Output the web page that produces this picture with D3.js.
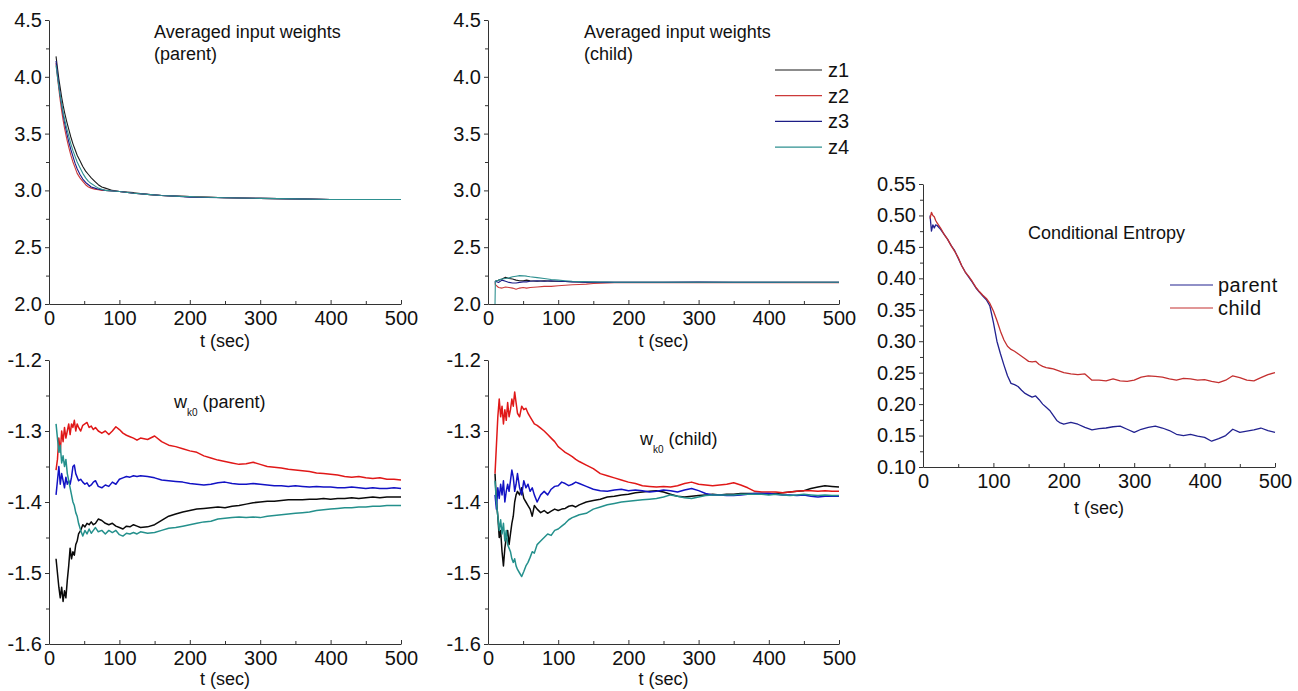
<!DOCTYPE html>
<html>
<head>
<meta charset="utf-8">
<script src="https://cdn.jsdelivr.net/npm/d3@7"></script>
<style>
  body { margin: 0; background: #fff; }
  svg { display: block; }
  text { font-family: "Liberation Sans", Arial, sans-serif; fill: #111; }
  .domain, .tick line { stroke: #333; }
</style>
</head>
<body>
<svg id="chart" width="1298" height="691"></svg>
<script>
// ---- data ----
const xTicks = [0, 100, 200, 300, 400, 500];
const xMinor = [50, 150, 250, 350, 450];

// averaged input weights, parent
const tAvgP = [10,12,14,16,18,20,22,25,28,31,34,37,40,44,48,52,56,60,65,70,75,80,90,100,120,140,160,180,200,250,300,350,400,450,500];
const avgP_z1 = [4.18,4.08,3.98,3.90,3.82,3.75,3.69,3.61,3.54,3.47,3.41,3.36,3.31,3.26,3.21,3.17,3.14,3.11,3.08,3.05,3.03,3.02,3.00,2.99,2.98,2.965,2.955,2.95,2.945,2.935,2.93,2.925,2.92,2.92,2.92];
const avgP_z2 = [4.12,4.00,3.89,3.79,3.70,3.62,3.55,3.46,3.38,3.31,3.25,3.20,3.15,3.11,3.08,3.05,3.03,3.02,3.01,3.005,3.00,3.00,2.995,2.99,2.975,2.965,2.955,2.95,2.945,2.935,2.93,2.925,2.92,2.92,2.92];
const avgP_z3 = [4.14,4.03,3.93,3.83,3.75,3.67,3.60,3.51,3.43,3.36,3.30,3.24,3.19,3.14,3.10,3.07,3.05,3.03,3.02,3.01,3.005,3.00,2.995,2.99,2.975,2.965,2.955,2.95,2.94,2.935,2.93,2.925,2.92,2.92,2.92];
const avgP_z4 = [4.10,4.00,3.91,3.83,3.76,3.69,3.63,3.55,3.48,3.41,3.35,3.30,3.25,3.20,3.15,3.11,3.08,3.06,3.04,3.02,3.01,3.00,2.995,2.99,2.975,2.965,2.955,2.95,2.945,2.935,2.93,2.925,2.92,2.92,2.92];

// averaged input weights, child
const tAvgC = [10,10.5,15,20,25,30,35,40,45,50,55,60,70,80,90,100,110,120,130,140,150,160,170,180,200,250,300,350,400,450,500];
const avgC_z1 = [2.20,2.20,2.21,2.22,2.235,2.225,2.22,2.21,2.205,2.205,2.21,2.205,2.20,2.205,2.20,2.20,2.198,2.196,2.195,2.193,2.192,2.192,2.191,2.19,2.19,2.19,2.19,2.19,2.19,2.19,2.19];
const avgC_z2 = [2.19,2.17,2.145,2.14,2.15,2.145,2.14,2.13,2.14,2.145,2.14,2.145,2.15,2.155,2.155,2.16,2.165,2.17,2.172,2.175,2.18,2.182,2.185,2.187,2.188,2.188,2.188,2.188,2.188,2.188,2.188];
const avgC_z3 = [2.19,2.20,2.19,2.21,2.20,2.19,2.185,2.185,2.19,2.195,2.195,2.20,2.205,2.20,2.205,2.20,2.198,2.195,2.193,2.19,2.19,2.19,2.19,2.19,2.19,2.19,2.193,2.19,2.19,2.192,2.192];
const avgC_z4 = [2.0,2.20,2.21,2.22,2.225,2.23,2.24,2.245,2.25,2.248,2.245,2.24,2.232,2.225,2.215,2.21,2.205,2.20,2.198,2.196,2.195,2.194,2.193,2.192,2.192,2.191,2.191,2.191,2.191,2.191,2.191];

// w_k0 time grid (parent and child)
const tW = [10,12,14,16,18,20,22,24,26,28,30,32,34,36,38,40,42,45,48,51,54,57,60,63,66,70,75,80,85,90,95,100,105,110,115,120,125,130,140,150,160,170,180,190,200,210,220,230,240,250,260,270,280,290,300,310,320,330,340,350,360,370,380,390,400,410,420,430,440,450,460,470,480,490,500];

const wP_z1 = [-1.48,-1.50,-1.52,-1.535,-1.52,-1.54,-1.525,-1.535,-1.51,-1.49,-1.465,-1.48,-1.47,-1.475,-1.46,-1.455,-1.445,-1.44,-1.432,-1.435,-1.43,-1.432,-1.428,-1.432,-1.43,-1.424,-1.426,-1.43,-1.432,-1.43,-1.434,-1.436,-1.438,-1.434,-1.435,-1.432,-1.434,-1.436,-1.435,-1.432,-1.426,-1.42,-1.417,-1.414,-1.412,-1.41,-1.409,-1.408,-1.407,-1.408,-1.406,-1.405,-1.403,-1.401,-1.40,-1.399,-1.399,-1.398,-1.397,-1.397,-1.397,-1.396,-1.396,-1.395,-1.396,-1.395,-1.395,-1.394,-1.395,-1.394,-1.393,-1.394,-1.393,-1.393,-1.393];
const wP_z2 = [-1.355,-1.34,-1.31,-1.33,-1.30,-1.315,-1.295,-1.31,-1.30,-1.29,-1.305,-1.29,-1.295,-1.285,-1.30,-1.29,-1.295,-1.30,-1.292,-1.29,-1.288,-1.295,-1.293,-1.298,-1.295,-1.30,-1.303,-1.30,-1.305,-1.30,-1.294,-1.298,-1.303,-1.306,-1.308,-1.31,-1.313,-1.31,-1.312,-1.307,-1.315,-1.32,-1.322,-1.325,-1.328,-1.33,-1.335,-1.338,-1.341,-1.343,-1.345,-1.347,-1.346,-1.344,-1.347,-1.35,-1.351,-1.352,-1.354,-1.355,-1.356,-1.357,-1.359,-1.36,-1.361,-1.362,-1.364,-1.365,-1.364,-1.366,-1.367,-1.366,-1.368,-1.368,-1.369];
const wP_z3 = [-1.39,-1.37,-1.35,-1.375,-1.36,-1.37,-1.38,-1.365,-1.375,-1.37,-1.375,-1.365,-1.35,-1.348,-1.36,-1.365,-1.37,-1.368,-1.372,-1.375,-1.373,-1.378,-1.376,-1.372,-1.37,-1.378,-1.38,-1.376,-1.378,-1.372,-1.375,-1.368,-1.366,-1.364,-1.365,-1.363,-1.364,-1.363,-1.364,-1.366,-1.369,-1.37,-1.371,-1.372,-1.374,-1.375,-1.376,-1.375,-1.373,-1.372,-1.374,-1.375,-1.375,-1.374,-1.375,-1.376,-1.377,-1.377,-1.378,-1.377,-1.378,-1.379,-1.378,-1.379,-1.379,-1.38,-1.38,-1.379,-1.38,-1.381,-1.38,-1.381,-1.381,-1.38,-1.381];
const wP_z4 = [-1.29,-1.31,-1.33,-1.32,-1.345,-1.335,-1.35,-1.34,-1.36,-1.37,-1.38,-1.39,-1.40,-1.405,-1.415,-1.42,-1.43,-1.44,-1.448,-1.44,-1.445,-1.438,-1.444,-1.44,-1.436,-1.442,-1.44,-1.445,-1.44,-1.443,-1.44,-1.446,-1.448,-1.444,-1.445,-1.443,-1.445,-1.442,-1.444,-1.443,-1.44,-1.437,-1.436,-1.434,-1.432,-1.43,-1.428,-1.427,-1.424,-1.423,-1.422,-1.421,-1.422,-1.421,-1.422,-1.42,-1.419,-1.418,-1.417,-1.416,-1.415,-1.414,-1.412,-1.411,-1.41,-1.409,-1.408,-1.408,-1.407,-1.407,-1.406,-1.406,-1.405,-1.405,-1.405];

const wC_z1 = [-1.36,-1.40,-1.42,-1.45,-1.44,-1.47,-1.49,-1.465,-1.45,-1.44,-1.46,-1.445,-1.43,-1.42,-1.40,-1.39,-1.385,-1.39,-1.38,-1.395,-1.40,-1.405,-1.41,-1.42,-1.405,-1.41,-1.415,-1.412,-1.416,-1.413,-1.41,-1.412,-1.41,-1.409,-1.406,-1.405,-1.407,-1.404,-1.40,-1.398,-1.396,-1.393,-1.392,-1.39,-1.389,-1.387,-1.386,-1.385,-1.384,-1.386,-1.389,-1.392,-1.393,-1.392,-1.391,-1.39,-1.389,-1.39,-1.389,-1.389,-1.388,-1.388,-1.388,-1.388,-1.389,-1.388,-1.387,-1.386,-1.385,-1.384,-1.381,-1.379,-1.377,-1.378,-1.379];
const wC_z2 = [-1.36,-1.32,-1.28,-1.255,-1.28,-1.265,-1.29,-1.27,-1.285,-1.26,-1.28,-1.27,-1.255,-1.265,-1.245,-1.26,-1.275,-1.28,-1.265,-1.27,-1.268,-1.275,-1.28,-1.285,-1.29,-1.292,-1.296,-1.30,-1.305,-1.31,-1.315,-1.322,-1.326,-1.33,-1.333,-1.336,-1.34,-1.343,-1.348,-1.353,-1.36,-1.363,-1.366,-1.369,-1.372,-1.374,-1.377,-1.378,-1.379,-1.378,-1.379,-1.377,-1.374,-1.372,-1.375,-1.376,-1.377,-1.376,-1.375,-1.373,-1.376,-1.38,-1.385,-1.386,-1.386,-1.386,-1.387,-1.386,-1.385,-1.384,-1.384,-1.385,-1.384,-1.385,-1.385];
const wC_z3 = [-1.39,-1.41,-1.38,-1.395,-1.375,-1.39,-1.37,-1.40,-1.385,-1.375,-1.385,-1.37,-1.355,-1.365,-1.385,-1.375,-1.36,-1.38,-1.39,-1.37,-1.38,-1.375,-1.385,-1.38,-1.39,-1.40,-1.39,-1.385,-1.39,-1.382,-1.378,-1.377,-1.372,-1.374,-1.377,-1.375,-1.372,-1.374,-1.378,-1.382,-1.384,-1.385,-1.383,-1.382,-1.384,-1.383,-1.384,-1.386,-1.385,-1.383,-1.384,-1.386,-1.383,-1.381,-1.384,-1.388,-1.39,-1.39,-1.391,-1.391,-1.39,-1.389,-1.388,-1.388,-1.388,-1.389,-1.39,-1.39,-1.391,-1.39,-1.392,-1.393,-1.392,-1.392,-1.392];
const wC_z4 = [-1.37,-1.40,-1.42,-1.44,-1.425,-1.445,-1.43,-1.455,-1.44,-1.46,-1.465,-1.47,-1.48,-1.485,-1.48,-1.49,-1.495,-1.50,-1.505,-1.498,-1.49,-1.485,-1.478,-1.47,-1.472,-1.46,-1.455,-1.45,-1.445,-1.447,-1.44,-1.438,-1.434,-1.43,-1.425,-1.422,-1.42,-1.418,-1.416,-1.41,-1.407,-1.404,-1.402,-1.40,-1.399,-1.398,-1.397,-1.396,-1.395,-1.393,-1.39,-1.392,-1.394,-1.395,-1.393,-1.391,-1.39,-1.39,-1.39,-1.39,-1.389,-1.389,-1.389,-1.389,-1.39,-1.389,-1.39,-1.391,-1.39,-1.389,-1.39,-1.391,-1.39,-1.391,-1.391];

// conditional entropy
const tH = [10,12,14,16,18,20,25,30,35,40,45,50,55,60,65,70,75,80,85,90,95,100,105,110,115,120,125,130,135,140,145,150,155,160,165,170,175,180,185,190,195,200,210,220,230,240,250,260,270,280,290,300,310,320,330,340,350,360,370,380,390,400,410,420,430,440,450,460,470,480,490,500];
const hParent = [0.50,0.475,0.485,0.48,0.485,0.484,0.478,0.47,0.462,0.452,0.444,0.432,0.42,0.41,0.402,0.394,0.385,0.378,0.372,0.366,0.356,0.33,0.30,0.28,0.262,0.245,0.233,0.231,0.228,0.222,0.217,0.214,0.211,0.213,0.207,0.20,0.195,0.19,0.182,0.174,0.17,0.168,0.171,0.168,0.163,0.159,0.161,0.162,0.164,0.165,0.16,0.155,0.16,0.163,0.165,0.162,0.158,0.152,0.15,0.152,0.149,0.147,0.141,0.145,0.15,0.16,0.155,0.157,0.159,0.162,0.158,0.155];
const hChild = [0.495,0.505,0.50,0.498,0.492,0.488,0.48,0.47,0.462,0.452,0.443,0.433,0.42,0.41,0.403,0.395,0.386,0.379,0.373,0.368,0.36,0.348,0.333,0.316,0.302,0.292,0.287,0.284,0.28,0.276,0.272,0.268,0.267,0.268,0.263,0.26,0.258,0.257,0.256,0.254,0.252,0.25,0.248,0.247,0.248,0.238,0.238,0.237,0.24,0.237,0.236,0.238,0.243,0.245,0.244,0.243,0.24,0.238,0.241,0.24,0.238,0.239,0.236,0.234,0.238,0.245,0.242,0.238,0.237,0.242,0.247,0.25];

const zNames = ["z1", "z2", "z3", "z4"];
const hNames = ["parent", "child"];

// ---- drawing ----
const svg = d3.select("#chart");
svg.append("rect").attr("width", 1298).attr("height", 691).attr("fill", "#fff");

const fmt1 = d => d.toFixed(1);
const fmt2 = d => d.toFixed(2);

function panel(p) {
  const x = d3.scaleLinear().domain([0, 500]).range([p.x0, p.x1]);
  const y = d3.scaleLinear().domain(p.yDomain).range([p.y1, p.y0]);
  const g = svg.append("g");

  // minor ticks
  g.append("g").attr("transform", `translate(0,${p.y1})`)
    .call(d3.axisBottom(x).tickValues(xMinor).tickSizeInner(-3).tickSizeOuter(0).tickFormat(""))
    .select(".domain").remove();
  g.append("g").attr("transform", `translate(${p.x0},0)`)
    .call(d3.axisLeft(y).tickValues(p.yMinor).tickSizeInner(3).tickSizeOuter(0).tickFormat(""))
    .select(".domain").remove();

  // major axes
  const xa = g.append("g").attr("transform", `translate(0,${p.y1})`)
    .call(d3.axisBottom(x).tickValues(xTicks).tickSizeInner(-4).tickSizeOuter(0).tickPadding(7).tickFormat(d3.format("d")));
  const ya = g.append("g").attr("transform", `translate(${p.x0},0)`)
    .call(d3.axisLeft(y).tickValues(p.yTicks).tickSizeInner(4).tickSizeOuter(0).tickPadding(3).tickFormat(p.fmt));
  [xa, ya].forEach(a => a.selectAll("text").style("font-size", "20px").attr("fill", "#111"));
  g.selectAll(".domain").attr("stroke", "#333");

  // x title
  g.append("text").attr("x", (p.x0 + p.x1) / 2).attr("y", p.y1 + p.xTitleOff)
    .attr("text-anchor", "middle").style("font-size", "18px").text("t (sec)");

  // series
  const line = d3.line().x(d => x(d[0])).y(d => y(d[1]));
  p.series.forEach(s => {
    g.append("path")
      .datum(p.t.map((t, i) => [t, s.v[i]]))
      .attr("fill", "none").attr("stroke", s.c).attr("stroke-width", p.lw)
      .attr("stroke-linejoin", "round").attr("d", line);
  });
  return g;
}

const topColors = ["#1b1b1b", "#cc3a3a", "#1c1c86", "#2e9090"];
const botColors = ["#0a0a0a", "#e01818", "#1212c4", "#24908c"];

const range = (a, b, s) => d3.range(a, b + s / 2, s).map(v => +v.toFixed(3));

const g1 = panel({ x0: 49, x1: 401, y0: 20, y1: 304, yDomain: [2, 4.5],
  yTicks: range(2, 4.5, 0.5), yMinor: range(2.25, 4.25, 0.5), fmt: fmt1, xTitleOff: 43, lw: 1.1,
  t: tAvgP, series: [avgP_z1, avgP_z2, avgP_z3, avgP_z4].map((v, i) => ({ v, c: topColors[i] })) });
const g2 = panel({ x0: 488, x1: 839, y0: 20, y1: 304, yDomain: [2, 4.5],
  yTicks: range(2, 4.5, 0.5), yMinor: range(2.25, 4.25, 0.5), fmt: fmt1, xTitleOff: 43, lw: 1.1,
  t: tAvgC, series: [avgC_z1, avgC_z2, avgC_z3, avgC_z4].map((v, i) => ({ v, c: topColors[i] })) });
const g3 = panel({ x0: 49, x1: 401, y0: 360, y1: 644, yDomain: [-1.6, -1.2],
  yTicks: range(-1.6, -1.2, 0.1), yMinor: range(-1.55, -1.25, 0.1), fmt: fmt1, xTitleOff: 41, lw: 1.5,
  t: tW, series: [wP_z1, wP_z2, wP_z3, wP_z4].map((v, i) => ({ v, c: botColors[i] })) });
const g4 = panel({ x0: 488, x1: 839, y0: 360, y1: 644, yDomain: [-1.6, -1.2],
  yTicks: range(-1.6, -1.2, 0.1), yMinor: range(-1.55, -1.25, 0.1), fmt: fmt1, xTitleOff: 41, lw: 1.5,
  t: tW, series: [wC_z1, wC_z2, wC_z3, wC_z4].map((v, i) => ({ v, c: botColors[i] })) });
const hColors = ["#222290", "#c43030"];
const g5 = panel({ x0: 923, x1: 1275, y0: 184, y1: 467, yDomain: [0.10, 0.55],
  yTicks: range(0.10, 0.55, 0.05), yMinor: range(0.125, 0.525, 0.05), fmt: fmt2, xTitleOff: 47, lw: 1.3,
  t: tH, series: [hParent, hChild].map((v, i) => ({ v, c: hColors[i] })) });

// titles
function title(g, x, lines, y0) {
  lines.forEach((s, i) => g.append("text").attr("x", x).attr("y", y0 + i * 22)
    .style("font-size", "18px").text(s));
}
title(g1, 154, ["Averaged input weights", "(parent)"], 38);
title(g2, 584, ["Averaged input weights", "(child)"], 38);
title(g5, 1028, ["Conditional Entropy"], 239);

function wTitle(g, x, y, label) {
  const t = g.append("text").attr("x", x).attr("y", y).style("font-size", "18px");
  t.append("tspan").text("w");
  t.append("tspan").attr("dy", 8).style("font-size", "10px").text("k0");
  t.append("tspan").attr("dy", -8).text(" " + label);
}
wTitle(g3, 174, 408, "(parent)");
wTitle(g4, 640, 445, "(child)");

// legends
const leg2 = g2.append("g");
zNames.forEach((n, i) => {
  const yy = 70 + i * 25.7;
  leg2.append("line").attr("x1", 775).attr("x2", 822).attr("y1", yy).attr("y2", yy)
    .attr("stroke", topColors[i]).attr("stroke-width", 1.2);
  leg2.append("text").attr("x", 828).attr("y", yy + 7).style("font-size", "20px").text(n);
});
const leg5 = g5.append("g");
hNames.forEach((n, i) => {
  const yy = 285 + i * 23;
  leg5.append("line").attr("x1", 1170).attr("x2", 1213).attr("y1", yy).attr("y2", yy)
    .attr("stroke", hColors[i]).attr("stroke-width", 1.2);
  leg5.append("text").attr("x", 1218).attr("y", yy + 7).style("font-size", "20px")
    .style("letter-spacing", "0.5px").text(n);
});
</script>
</body>
</html>
